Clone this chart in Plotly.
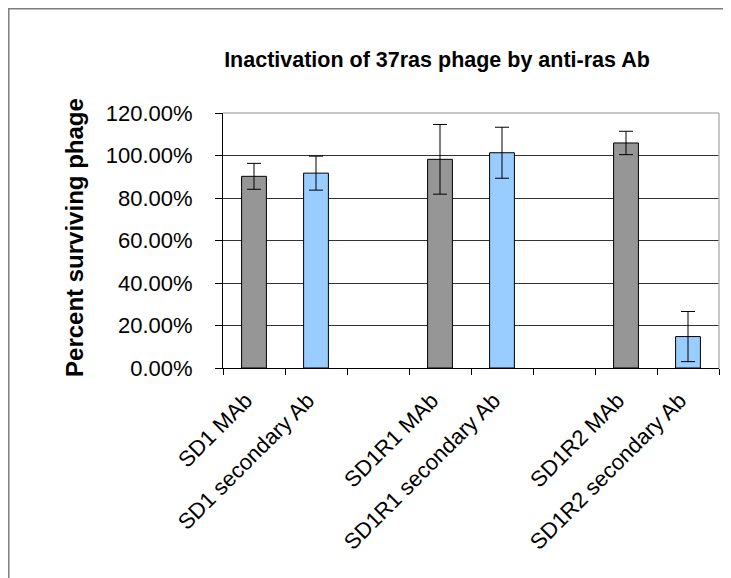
import plotly.graph_objects as go

# ---- data ----
categories = ["SD1 MAb", "SD1 secondary Ab", " ",
              "SD1R1 MAb", "SD1R1 secondary Ab", "  ",
              "SD1R2 MAb", "SD1R2 secondary Ab"]
mab_values = [0.902, None, None, 0.982, None, None, 1.059, None]
mab_errors = [0.061, None, None, 0.164, None, None, 0.055, None]
sec_values = [None, 0.917, None, None, 1.013, None, None, 0.148]
sec_errors = [None, 0.080, None, None, 0.120, None, None, 0.118]
y_ticks = [0.0, 0.2, 0.4, 0.6, 0.8, 1.0, 1.2]

FONT = "Liberation Sans, Arial, sans-serif"

# page has an 8px body margin; figure coordinates below account for it
L, T, PW, PH = 215, 105, 496, 255

fig = go.Figure()
fig.add_trace(go.Bar(
    x=categories, y=mab_values, name="MAb",
    marker=dict(color="#969696", line=dict(color="black", width=1)),
    error_y=dict(type="data", array=mab_errors, visible=True,
                 color="black", thickness=1, width=7),
    width=0.4,
))
fig.add_trace(go.Bar(
    x=categories, y=sec_values, name="secondary Ab",
    marker=dict(color="#99CCFF", line=dict(color="black", width=1)),
    error_y=dict(type="data", array=sec_errors, visible=True,
                 color="black", thickness=1, width=7),
    width=0.4,
))

fig.update_layout(
    width=731, height=578,
    margin=dict(l=L, r=731 - L - PW, t=T, b=578 - T - PH, autoexpand=False),
    paper_bgcolor="white", plot_bgcolor="white",
    barmode="overlay",
    showlegend=False,
    font=dict(family=FONT, color="black", size=20),
    title=dict(text="<b>Inactivation of 37ras phage by anti-ras Ab</b>",
               x=429 / 731, xanchor="center", xref="container",
               y=1 - 51 / 578, yanchor="middle", yref="container",
               font=dict(family=FONT, size=21.5, color="black")),
    xaxis=dict(
        type="category", categoryorder="array", categoryarray=categories,
        tickangle=-45, tickson="boundaries", ticks="outside", ticklen=6,
        tickcolor="black", showline=True, linecolor="black", linewidth=1,
        ticklabelstandoff=10, ticklabelshift=-8,
        showgrid=False, tickfont=dict(family=FONT, size=22, color="black"),
    ),
    yaxis=dict(
        range=[0, 1.2], tickvals=y_ticks, tickformat=".2%",
        ticks="outside", ticklen=7, tickcolor="black",
        ticklabelstandoff=18,
        showline=True, linecolor="black", linewidth=1,
        showgrid=True, gridcolor="#333333", gridwidth=1,
        zeroline=False,
        tickfont=dict(family=FONT, size=22, color="black"),
    ),
    annotations=[dict(
        text="<b>Percent surviving phage</b>", textangle=-90,
        xref="paper", yref="paper", x=(67 - L) / PW, y=0.51,
        xanchor="center", yanchor="middle", showarrow=False,
        font=dict(family=FONT, size=24, color="black"),
    )],
    shapes=[
        # plot area top and right border
        dict(type="line", xref="paper", yref="paper", x0=0, x1=1, y0=1, y1=1,
             line=dict(color="#b4b4b4", width=1.5), layer="above"),
        dict(type="line", xref="paper", yref="paper", x0=1, x1=1, y0=0, y1=1,
             line=dict(color="#b4b4b4", width=1.5), layer="above"),
        # chart outer border
        dict(type="rect", xref="paper", yref="paper",
             x0=(0.8 - L) / PW, x1=1.2, y0=-1.5, y1=(T + PH - 0.8) / PH,
             line=dict(color="#7f7f7f", width=1.5), layer="below"),
    ],
)

fig.write_html("out.html")
